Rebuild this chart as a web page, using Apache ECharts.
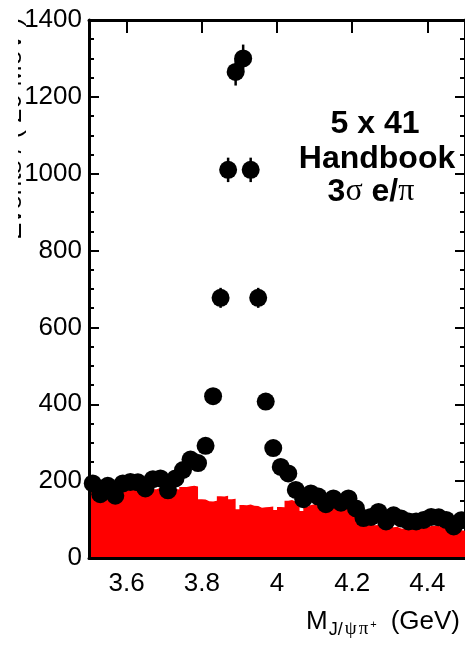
<!DOCTYPE html>
<html>
<head>
<meta charset="utf-8">
<script src="https://cdn.jsdelivr.net/npm/echarts@6/dist/echarts.min.js"></script>
<style>
  html, body { margin: 0; padding: 0; background: #fff; }
  #chart { width: 465px; height: 646px; }
</style>
</head>
<body>
<div id="chart"></div>
<script>
// J/psi pi+ invariant mass: signal candidates (points) and background (red histogram)

// bin centres of the 20 MeV data bins (GeV)
const massCenters = [
  3.51, 3.53, 3.55, 3.57, 3.59, 3.61, 3.63, 3.65, 3.67, 3.69,
  3.71, 3.73, 3.75, 3.77, 3.79, 3.81, 3.83, 3.85, 3.87, 3.89,
  3.91, 3.93, 3.95, 3.97, 3.99, 4.01, 4.03, 4.05, 4.07, 4.09,
  4.11, 4.13, 4.15, 4.17, 4.19, 4.21, 4.23, 4.25, 4.27, 4.29,
  4.31, 4.33, 4.35, 4.37, 4.39, 4.41, 4.43, 4.45, 4.47, 4.49
];

// events per bin
const eventCounts = [
  194, 166, 188, 162, 194, 198, 197, 181, 205, 207,
  176, 207, 229, 256, 247, 292, 421, 677, 1010, 1265,
  1300, 1010, 677, 407, 286, 237, 220, 177, 153, 168,
  160, 140, 155, 144, 155, 129, 104, 107, 120, 95,
  111, 103, 95, 95, 99, 107, 106, 99, 82, 98
];

// background histogram: 10 MeV bins starting at 3.50 GeV
const bkgStart = 3.50;
const bkgWidth = 0.01;
const bkgCounts = [
  180, 183, 178, 182, 185, 179, 176, 181, 184, 180,
  178, 183, 186, 181, 177, 182, 185, 179, 183, 187,
  176, 180, 180, 178, 185, 185, 187, 188, 186, 153,
  152, 148, 147, 149, 161, 160, 162, 153, 154, 127,
  138, 137, 139, 136, 135, 131, 132, 133, 134, 125,
  133, 132, 149, 151, 147, 146, 122, 133, 138, 140,
  136, 139, 141, 137, 135, 138, 133, 130, 128, 125,
  112, 92, 90, 86, 87, 85, 86, 85, 82, 81,
  80, 81, 77, 76, 78, 81, 80, 82, 81, 80,
  83, 84, 83, 82, 81, 80, 68, 69, 72, 71
];

const xTickValues = [3.6, 3.8, 4.0, 4.2, 4.4];
const xMin = 3.5, xMax = 4.5;
const yMin = 0, yMax = 1400, yStep = 200;

// step outline of the background: one point per left bin edge, plus the closing edge
const bkgSteps = bkgCounts.map((v, i) => [+(bkgStart + i * bkgWidth).toFixed(2), v]);
bkgSteps.push([+(bkgStart + bkgCounts.length * bkgWidth).toFixed(2), bkgCounts[bkgCounts.length - 1]]);

const points = massCenters.map((m, i) => [m, eventCounts[i]]);

const sans = '"Liberation Sans", Arial, Helvetica, sans-serif';
const serif = '"Liberation Serif", "Times New Roman", serif';

const chart = echarts.init(document.getElementById('chart'), null, { renderer: 'canvas' });

chart.setOption({
  animation: false,
  backgroundColor: '#fff',
  grid: { left: 89, right: -2, top: 20, bottom: 88 },
  title: {
    text: '{m|M}{s|J/}{g|ψ}{g|π}{p|+}{r|(GeV)}',
    right: 5,
    bottom: 3,
    padding: 0,
    textStyle: {
      fontWeight: 'normal',
      rich: {
        m: { fontFamily: sans, fontWeight: 'normal', fontSize: 26, color: '#000', lineHeight: 26, padding: [0, 1, 4, 0], verticalAlign: 'bottom' },
        s: { fontFamily: sans, fontWeight: 'normal', fontSize: 18, color: '#000', lineHeight: 18, padding: [0, 2, 0, 0], verticalAlign: 'bottom' },
        g: { fontFamily: serif, fontWeight: 'normal', fontSize: 19, color: '#000', lineHeight: 18, padding: [0, 2, 0, 0], verticalAlign: 'bottom' },
        p: { fontFamily: sans, fontWeight: 'normal', fontSize: 11, color: '#000', lineHeight: 11, padding: [0, 0, 9, 0], verticalAlign: 'bottom' },
        r: { fontFamily: sans, fontWeight: 'normal', fontSize: 26, color: '#000', lineHeight: 26, padding: [0, 0, 4, 14], verticalAlign: 'bottom' }
      }
    }
  },
  xAxis: [
    {
      type: 'value', position: 'bottom', min: xMin, max: xMax, z: 10,
      axisLine: { show: true, onZero: false, lineStyle: { color: '#000', width: 3 } },
      axisTick: { show: false },
      splitLine: { show: false },
      axisLabel: {
        customValues: xTickValues,
        color: '#000', fontFamily: sans, fontSize: 26, margin: 13
      }
    },
    {
      type: 'value', position: 'top', min: xMin, max: xMax, z: 10,
      axisLine: { show: true, onZero: false, lineStyle: { color: '#000', width: 3 } },
      axisTick: { show: true, inside: true, length: 13, customValues: xTickValues, lineStyle: { color: '#000', width: 2 } },
      splitLine: { show: false },
      axisLabel: { show: false }
    }
  ],
  yAxis: [
    {
      type: 'value', position: 'left', min: yMin, max: yMax, interval: yStep,
      axisLine: { show: false },
      axisTick: { show: true, inside: true, length: 10, lineStyle: { color: '#000', width: 2 } },
      minorTick: { show: true, splitNumber: 4, length: 5, lineStyle: { color: '#000', width: 2 } },
      splitLine: { show: false },
      axisLabel: { color: '#000', fontFamily: sans, fontSize: 26, margin: 7, formatter: v => String(v) }
    },
    {
      type: 'value', position: 'left', min: yMin, max: yMax, interval: yStep, z: 10,
      axisLine: { show: true, onZero: false, lineStyle: { color: '#000', width: 3 } },
      axisTick: { show: false },
      splitLine: { show: false },
      axisLabel: { show: false }
    },
    {
      type: 'value', position: 'right', min: yMin, max: yMax, interval: yStep,
      axisLine: { show: true, onZero: false, lineStyle: { color: '#000', width: 3 } },
      axisTick: { show: true, inside: true, length: 10, lineStyle: { color: '#000', width: 2 } },
      minorTick: { show: true, splitNumber: 4, length: 5, lineStyle: { color: '#000', width: 2 } },
      splitLine: { show: false },
      axisLabel: { show: false }
    }
  ],
  graphic: [
    {
      type: 'text', x: 27, y: 240, rotation: Math.PI / 2, z: 1,
      style: { text: 'Events / ( 20 MeV )', fontFamily: sans, fontSize: 26, fill: '#000', align: 'left', verticalAlign: 'bottom' }
    },
    {
      type: 'rect', z: 2,
      shape: { x: 0, y: 0, width: 18, height: 250 },
      style: { fill: '#fff' }
    },
    {
      type: 'text', x: 375, y: 124, z: 20,
      style: { text: '5 x 41', fontFamily: sans, fontWeight: 'bold', fontSize: 32, fill: '#000', align: 'center', verticalAlign: 'middle' }
    },
    {
      type: 'text', x: 377, y: 159, z: 20,
      style: { text: 'Handbook', fontFamily: sans, fontWeight: 'bold', fontSize: 32, fill: '#000', align: 'center', verticalAlign: 'middle' }
    },
    {
      type: 'text', x: 371, y: 192, z: 20,
      style: {
        text: '{a|3}{g|σ}{a| e/}{g|π}',
        align: 'center', verticalAlign: 'middle',
        rich: {
          a: { fontFamily: sans, fontWeight: 'bold', fontSize: 32, fill: '#000' },
          g: { fontFamily: serif, fontSize: 32, fill: '#000' }
        }
      }
    }
  ],
  series: [
    {
      name: 'background', type: 'line', xAxisIndex: 0, yAxisIndex: 0,
      step: 'end', symbol: 'none', z: 2,
      data: bkgSteps,
      lineStyle: { width: 0, color: '#ff0000' },
      itemStyle: { color: '#ff0000' },
      areaStyle: { color: '#ff0000', opacity: 1 }
    },
    {
      name: 'errors', type: 'custom', xAxisIndex: 0, yAxisIndex: 0, z: 3,
      data: points,
      renderItem: function (params, api) {
        const m = api.value(0), n = api.value(1), err = Math.sqrt(n);
        const top = api.coord([m, n + err]);
        const bot = api.coord([m, n - err]);
        return {
          type: 'line',
          shape: { x1: top[0], y1: top[1], x2: bot[0], y2: bot[1] },
          style: { stroke: '#000', lineWidth: 2.5 }
        };
      }
    },
    {
      name: 'data', type: 'scatter', xAxisIndex: 0, yAxisIndex: 0, z: 4,
      symbol: 'circle', symbolSize: 18,
      itemStyle: { color: '#000', opacity: 1 },
      data: points
    }
  ]
});
</script>
</body>
</html>
